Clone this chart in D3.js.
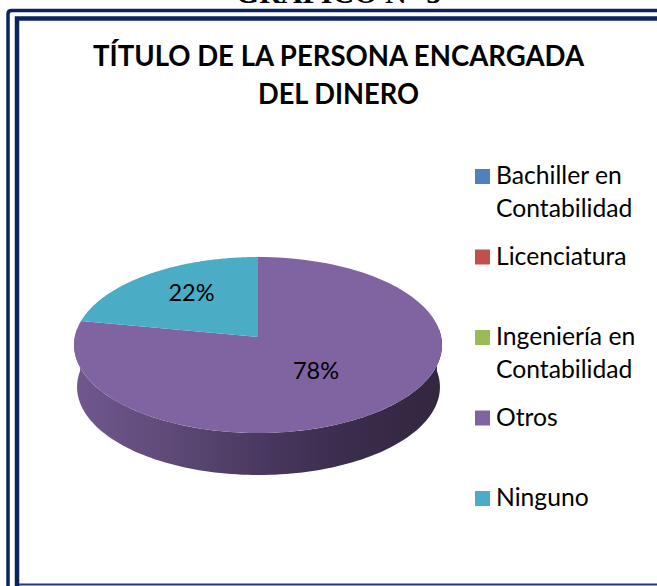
<!DOCTYPE html>
<html>
<head>
<meta charset="utf-8">
<script src="https://cdn.jsdelivr.net/npm/d3@7"></script>
<style>
  html, body { margin: 0; padding: 0; background: #fff; }
  svg { display: block; }
  text { font-family: Lato, "Open Sans", sans-serif; fill: #000; }
</style>
</head>
<body>
<div id="chartDiv"></div>
<script>
var categories = ["Bachiller en Contabilidad", "Licenciatura", "Ingeniería en Contabilidad", "Otros", "Ninguno"];
var values = [0, 0, 0, 78, 22];
var colors = ["#4f81bd", "#c0504d", "#9bbb59", "#8064a2", "#4bacc6"];
var titleLines = ["TÍTULO DE LA PERSONA ENCARGADA", "DEL DINERO"];
var sideStops = ["#70588f", "#5f4a78", "#4a3960", "#3a2c4c", "#33263f"];

const width = 657, height = 586;

let svg = d3.select("#chartDiv").append("svg")
    .attr("width", width)
    .attr("height", height);

// cut off heading from the page above the chart
svg.append("text")
    .attr("x", 338.5)
    .attr("y", 3)
    .attr("text-anchor", "middle")
    .style("font-family", "'Liberation Serif', serif")
    .style("font-weight", "bold")
    .style("font-size", "30px")
    .text("GRÁFICO N° 5");

// double border, runs off the right edge
svg.append("path")
    .attr("d", "M8,586V14Q8,10.5 11.5,10.5H657")
    .attr("fill", "none")
    .attr("stroke", "#0a2463")
    .attr("stroke-width", 3.5);
svg.append("path")
    .attr("d", "M17,586V18.5H657")
    .attr("fill", "none")
    .attr("stroke", "#0a2463")
    .attr("stroke-width", 4.5);
svg.append("path")
    .attr("d", "M19,584.5H657")
    .attr("fill", "none")
    .attr("stroke", "#1c3a7c")
    .attr("stroke-width", 2);

svg.selectAll(".title")
    .data(titleLines)
    .join("text")
    .attr("class", "title")
    .attr("x", 338.5)
    .attr("y", (d, i) => 66 + i * 38)
    .attr("text-anchor", "middle")
    .attr("textLength", (d, i) => i == 0 ? 491 : 161)
    .attr("lengthAdjust", "spacingAndGlyphs")
    .style("font-weight", "bold")
    .style("font-size", "29px")
    .text(d => d);

// pie lying down, projected with a little perspective
const apexX = 258, apexY = 337, discX = 183.2, discY = 87.27, persp = -0.0909, depth = 42;

function project(angle) {
    let u = Math.sin(angle), v = -Math.cos(angle);
    let w = 1 + persp * v;
    return [apexX + discX * u / w, apexY + discY * v / w];
}

function arcPoints(a0, a1) {
    return d3.range(0, 1.0001, 1 / 120).map(t => project(a0 + (a1 - a0) * t));
}

const pieData = d3.pie().sort(null).value((d, i) => values[i])(categories);
const color = d3.scaleOrdinal().domain(categories).range(colors);
const line = d3.line();

// side wall, front half of the rim
let grad = svg.append("defs").append("linearGradient")
    .attr("id", "sideGrad")
    .attr("gradientUnits", "userSpaceOnUse")
    .attr("x1", apexX - discX)
    .attr("x2", apexX + discX)
    .attr("y1", 0)
    .attr("y2", 0);
sideStops.forEach((c, i) => {
    grad.append("stop")
        .attr("offset", i / (sideStops.length - 1))
        .attr("stop-color", c);
});

let frontArc = arcPoints(Math.PI * 0.47, Math.PI * 1.53);
let shrink = d3.scaleLinear()
    .domain([apexX - discX, apexX + discX])
    .range([apexX - discX + 3, apexX + discX - 2]);
let bottomArc = frontArc.map(p => [shrink(p[0]), p[1] + depth]).reverse();
svg.append("path")
    .attr("d", line(frontArc.concat(bottomArc)) + "Z")
    .attr("fill", "url(#sideGrad)");

// top face
svg.selectAll(".slice")
    .data(pieData.filter(d => d.value > 0))
    .join("path")
    .attr("class", "slice")
    .attr("d", d => line([[apexX, apexY]].concat(arcPoints(d.startAngle, d.endAngle))) + "Z")
    .attr("fill", d => color(d.data));

// value labels
const labelSpots = { "Otros": [316, 379], "Ninguno": [191.5, 301] };
svg.selectAll(".pct")
    .data(pieData.filter(d => d.value > 0))
    .join("text")
    .attr("class", "pct")
    .attr("x", d => labelSpots[d.data][0])
    .attr("y", d => labelSpots[d.data][1])
    .attr("text-anchor", "middle")
    .style("font-size", "23.5px")
    .text(d => d.value + "%");

// legend
const legendY = d3.scalePoint().domain(categories).range([176.5, 498.5]);

let legend = svg.selectAll(".legendRow")
    .data(categories)
    .join("g")
    .attr("class", "legendRow")
    .attr("transform", d => `translate(475,${legendY(d)})`);

legend.append("rect")
    .attr("x", 0)
    .attr("y", -7.5)
    .attr("width", 15)
    .attr("height", 15)
    .attr("fill", d => color(d));

legend.selectAll("text")
    .data(d => d.includes(" en ") ? d.replace(" en ", " en|").split("|") : [d])
    .join("text")
    .attr("x", 21)
    .attr("y", (d, i) => 7.5 + i * 33)
    .style("font-size", "24.7px")
    .text(d => d);
</script>
</body>
</html>
